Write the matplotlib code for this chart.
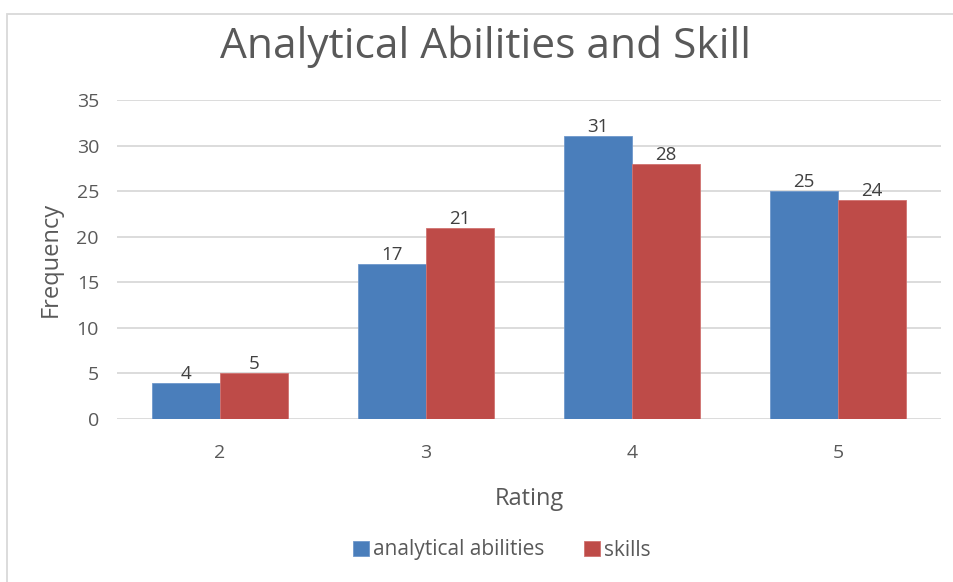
import matplotlib
matplotlib.use("Agg")
import matplotlib.pyplot as plt
from matplotlib.patches import Rectangle
import numpy as np

categories = ["2", "3", "4", "5"]
analytical = [4, 17, 31, 25]
skills = [5, 21, 28, 24]
series_names = ["analytical abilities", "skills"]
yticks = [0, 5, 10, 15, 20, 25, 30, 35]

W, H = 954, 582
fig = plt.figure(figsize=(W / 100, H / 100), dpi=100)
fig.patch.set_facecolor("white")
plt.rcParams["font.family"] = ["Open Sans", "DejaVu Sans"]

# chart border
fig.add_artist(Rectangle((7 / W, -0.1), 1.1, 1 - 14 / H + 0.1, transform=fig.transFigure,
                         fill=False, edgecolor="#d9d9d9", linewidth=1.3))

ax = fig.add_axes([117 / W, 1 - 419 / H, (941 - 117) / W, (419 - 100) / H])
x = np.arange(len(categories))
bw = 68 / 206
blue = "#4A7EBB"
red = "#BE4B48"
b1 = ax.bar(x - bw / 2, analytical, bw, color=blue, edgecolor="#6f98cc", linewidth=0.6,
            label=series_names[0], zorder=3)
b2 = ax.bar(x + bw / 2, skills, bw, color=red, edgecolor="#d07270", linewidth=0.6,
            label=series_names[1], zorder=3)
for bars in (b1, b2):
    ax.bar_label(bars, padding=0, fontsize=13.5, color="#404040")

ax.set_xlim(-0.5, len(categories) - 0.5)
ax.set_ylim(0, 35)
ax.set_yticks(yticks)
ax.set_xticks(x)
ax.set_xticklabels(categories)
ax.tick_params(axis="both", length=0, labelsize=14, colors="#595959")
ax.tick_params(axis="y", pad=13)
ax.tick_params(axis="x", pad=18)
ax.grid(axis="y", color="#d9d9d9", linewidth=1.3, zorder=0)
ax.set_axisbelow(True)
for s in ax.spines.values():
    s.set_visible(False)

ax.set_ylabel("Frequency", fontsize=17, color="#595959", labelpad=10)
ax.set_xlabel("Rating", fontsize=17, color="#595959", labelpad=18)

fig.text(486 / W, 1 - 47 / H, "Analytical Abilities and Skill", ha="center", va="center",
         fontsize=30.6, color="#595959")

fig.legend(handles=[b1, b2], labels=series_names, loc="center", bbox_to_anchor=(502 / W, 1 - 550 / H),
           ncol=2, frameon=False, fontsize=15, handlelength=0.75, handleheight=0.75,
           handletextpad=0.2, columnspacing=1.9, labelcolor="#595959")

fig.savefig("out.png", dpi=100, facecolor="white")
